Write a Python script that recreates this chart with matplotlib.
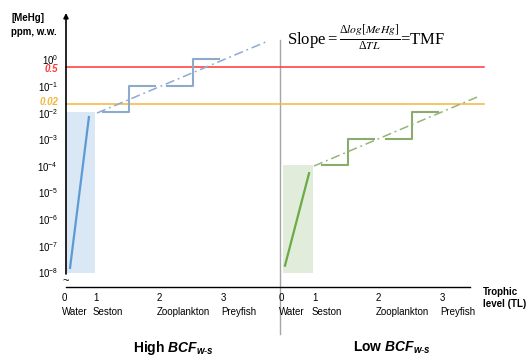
import numpy as np
import matplotlib
matplotlib.use('Agg')
import matplotlib.pyplot as plt

plt.rcParams['font.family'] = ['Liberation Sans', 'DejaVu Sans']
plt.rcParams['mathtext.fontset'] = 'custom'
plt.rcParams['mathtext.rm'] = 'Liberation Sans'
plt.rcParams['mathtext.it'] = 'Liberation Sans:bold:italic'
plt.rcParams['mathtext.bf'] = 'Liberation Sans:bold'
plt.rcParams['mathtext.default'] = 'regular'

# trophic levels
tl_values = [0, 1, 2, 3]
tl_names = ['Water', 'Seston', 'Zooplankton', 'Preyfish']
decades = [0, -1, -2, -3, -4, -5, -6, -7, -8]

# thresholds (ppm)
thr_values = [0.5, 0.02]
thr_labels = ['0.5', '0.02']
thr_colors = ['#ff3636', '#f2b63a']
thr_label_pix = [69, 102]

# High BCF panel
high_rect_tl = [0.0, 0.93]
high_rect_ppm = [8.9e-9, 1e-2]
high_water_tl = [0.13, 0.74]
high_water_ppm = [1.4e-8, 6.6e-3]
high_steps_ppm = [[1e-2, 1e-1], [1e-1, 1e0]]
high_fit_tl = [1.0, 3.64]
high_fit_ppm = [9.3e-3, 4.4]

# Low BCF panel
low_rect_tl = [0.0, 0.92]
low_rect_ppm = [8.9e-9, 1e-4]
low_water_tl = [0.06, 0.79]
low_water_ppm = [1.7e-8, 5.1e-5]
low_steps_ppm = [[1e-4, 1e-3], [1e-3, 1e-2]]
low_fit_tl = [0.94, 3.56]
low_fit_ppm = [9.5e-5, 4.1e-2]

step_tl = [0.1, 0.5, 0.9]  # offsets within a trophic level


def py(pix):
    # vertical position in figure pixels -> ppm on the log axis
    return 10 ** (-(pix - 59) / 26.6)


def tl_to_x(tl, x0, w0):
    tl = np.asarray(tl, dtype=float)
    return np.where(tl <= 1, x0 + tl * w0, x0 + w0 + (tl - 1) * 64)


fig = plt.figure(figsize=(5.32, 3.56), dpi=100)
ax = fig.add_axes([0, 0, 1, 1])
ax.set_yscale('log')
ax.set_xlim(0, 532)
ax.set_ylim(py(356), py(0))
ax.axis('off')

# thresholds
for v, lab, c, lp in zip(thr_values, thr_labels, thr_colors, thr_label_pix):
    ax.plot([66, 484], [v, v], color=c, lw=1.1, zorder=2)
    ax.text(58, py(lp), lab, color=c, fontsize=7, fontweight='bold', style='italic',
            ha='right', va='center')

panels = [
    dict(x0=66, w0=31, rect_tl=high_rect_tl, rect_ppm=high_rect_ppm,
         w_tl=high_water_tl, w_ppm=high_water_ppm, steps=high_steps_ppm,
         fit_tl=high_fit_tl, fit_ppm=high_fit_ppm,
         rect_c='#dae7f4', line_c='#5b9bd5', step_c='#8eaacb', fit_c='#8fa9d4'),
    dict(x0=283, w0=33, rect_tl=low_rect_tl, rect_ppm=low_rect_ppm,
         w_tl=low_water_tl, w_ppm=low_water_ppm, steps=low_steps_ppm,
         fit_tl=low_fit_tl, fit_ppm=low_fit_ppm,
         rect_c='#e2ecdb', line_c='#6aab45', step_c='#8aab6c', fit_c='#94b57a'),
]

for p in panels:
    rx = tl_to_x(p['rect_tl'], p['x0'], p['w0'])
    ax.fill_between(rx, p['rect_ppm'][0], p['rect_ppm'][1], color=p['rect_c'],
                    lw=0, zorder=1)
    ax.plot(tl_to_x(p['w_tl'], p['x0'], p['w0']), p['w_ppm'], color=p['line_c'],
            lw=1.6, zorder=3)
    for lvl, (a, b) in zip([1, 2], p['steps']):
        xs = tl_to_x([lvl + step_tl[0], lvl + step_tl[1], lvl + step_tl[1],
                      lvl + step_tl[2]], p['x0'], p['w0'])
        ax.plot(xs, [a, a, b, b], color=p['step_c'], lw=1.5, zorder=3)
    ax.plot(tl_to_x(p['fit_tl'], p['x0'], p['w0']), p['fit_ppm'], color=p['fit_c'],
            lw=1.1, dashes=(6, 2.5, 1.2, 2.5), zorder=4)
    # x tick labels
    for tl, name in zip(tl_values, tl_names):
        xt = float(tl_to_x(tl, p['x0'], p['w0'])) - 4
        ax.text(xt, py(298), str(tl), fontsize=7, ha='left', va='center')
        ax.text(xt, py(312), name, fontsize=7, ha='left', va='center')

# y axis with arrow
ax.annotate('', xy=(66, py(13)), xytext=(66, py(274)),
            arrowprops=dict(arrowstyle='-|>', lw=1.2, color='black',
                            mutation_scale=7, shrinkA=0, shrinkB=0))
ax.text(66, py(281), '~', fontsize=8, ha='center', va='center')
shift = 10 ** (-1.5 / 26.6)  # tick labels sit slightly below their decade
for d in decades:
    ax.text(58, 10.0 ** d * shift, r'$10^{%d}$' % d, fontsize=7, ha='right',
            va='center')

# x axis
ax.plot([66, 470], [py(287), py(287)], color='black', lw=1.0)
ax.text(483, py(287), 'Trophic\nlevel (TL)', fontsize=7, fontweight='bold',
        ha='left', va='top', linespacing=1.2)

# divider
ax.plot([280, 280], [py(40), py(334)], color='#a6a6a6', lw=1.0, zorder=0)

# labels
ax.text(11, py(13), '[MeHg]\nppm, w.w.', fontsize=7, fontweight='bold',
        ha='left', va='top', linespacing=1.5)
ax.text(287, py(37), r'Slope$=\frac{\Delta \mathit{log[MeHg]}}{\Delta \mathit{TL}}$=TMF',
        fontsize=12, family='Liberation Serif', math_fontfamily='stix',
        ha='left', va='center')
ax.text(133, py(348), r'High $\mathit{BCF}_{\mathit{w\text{-}s}}$', fontsize=10,
        fontweight='bold', ha='left', va='center')
ax.text(353, py(348), r'Low $\mathit{BCF}_{\mathit{w\text{-}s}}$', fontsize=10,
        fontweight='bold', ha='left', va='center')

fig.savefig('out.png', dpi=100)
